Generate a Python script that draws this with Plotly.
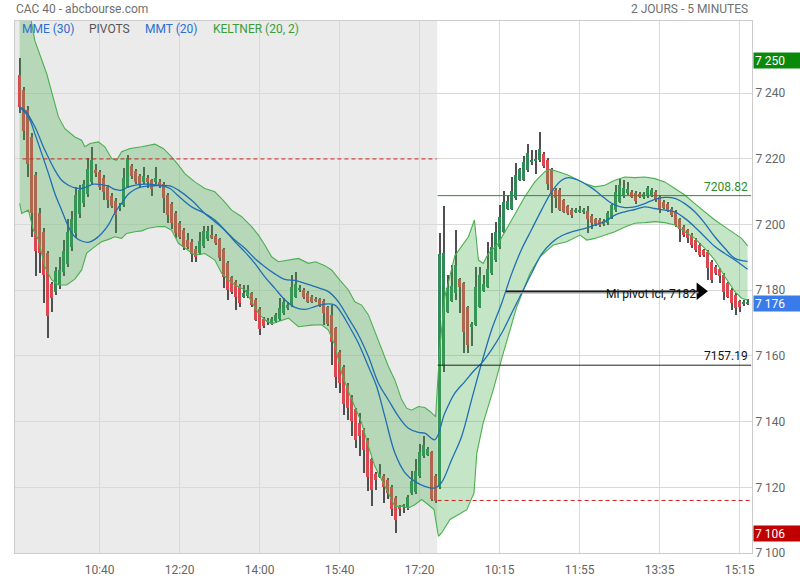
import plotly.graph_objects as go

# ---------------- data ----------------
TICK_IDX = [20, 40, 60, 80, 100, 120, 140, 160, 180]
TICK_TXT = ["10:40", "12:20", "14:00", "15:40", "17:20", "10:15", "11:55", "13:35", "15:15"]
Y_TICKS = [7100, 7120, 7140, 7160, 7180, 7200, 7220, 7240]
Y_TICK_TXT = ["7 100", "7 120", "7 140", "7 160", "7 180", "7 200", "7 220", "7 240"]

OPEN = [7245.5, 7240.9, 7234.8, 7226.7, 7215.1, 7203.4, 7197.6, 7191.3, 7181.8, 7179.6,
        7181.6, 7185.5, 7188.0, 7193.3, 7197.3, 7203.1, 7206.7, 7209.3, 7213.0, 7216.6,
        7215.9, 7214.1, 7211.5, 7208.7, 7207.2, 7205.0, 7206.0, 7211.5, 7217.8, 7216.3,
        7214.8, 7213.0, 7214.3, 7213.5, 7213.0, 7213.0, 7212.5, 7209.0, 7206.4, 7203.4,
        7200.4, 7198.3, 7195.3, 7194.8, 7192.7, 7191.5, 7193.5, 7195.6, 7196.8, 7196.6,
        7195.5, 7192.5, 7188.4, 7184.1, 7182.4, 7181.4, 7178.1, 7178.3, 7179.1, 7177.0,
        7174.2, 7171.2, 7170.4, 7169.8, 7170.5, 7171.2, 7173.0, 7174.5, 7175.5, 7178.1,
        7180.2, 7180.1, 7179.3, 7178.1, 7177.4, 7177.2, 7176.8, 7174.8, 7172.5, 7168.4,
        7161.3, 7156.6, 7151.2, 7147.5, 7143.8, 7139.6, 7137.5, 7134.5, 7128.6, 7124.2,
        7123.2, 7123.6, 7122.3, 7120.1, 7116.8, 7114.1, 7114.2, 7113.7, 7118.3, 7118.5,
        7123.3, 7129.4, 7129.9, 7130.7, 7123.6,
        7120.0, 7157.0, 7173.5, 7176.8, 7179.1, 7183.3, 7182.1, 7174.8, 7168.8, 7169.5,
        7175.0, 7179.9, 7181.1, 7185.2, 7189.2, 7193.1, 7197.8, 7204.9, 7204.9, 7208.0,
        7213.7, 7213.7, 7216.6, 7219.3, 7219.5, 7219.6, 7221.6, 7219.8, 7216.6, 7210.5,
        7210.5, 7207.4, 7205.6, 7204.6, 7204.1, 7204.0, 7203.8, 7204.2, 7202.6, 7201.6,
        7201.4, 7201.2, 7200.4, 7202.2, 7204.4, 7207.0, 7208.7, 7209.5, 7210.0, 7209.7,
        7209.3, 7208.3, 7208.7, 7209.0, 7210.0, 7208.5, 7207.0, 7206.4, 7204.9, 7203.9,
        7201.6, 7199.3, 7198.3, 7196.8, 7195.3, 7193.8, 7192.2, 7191.7, 7188.7, 7187.2,
        7186.4, 7184.7, 7182.1, 7180.1, 7178.6, 7176.6, 7176.1, 7175.9]
HIGH = [7250.6, 7242.0, 7236.0, 7228.0, 7216.0, 7205.0, 7199.0, 7192.0, 7182.5, 7187.0,
        7190.2, 7195.3, 7201.7, 7204.1, 7211.5, 7212.2, 7213.5, 7220.4, 7223.7, 7218.6,
        7216.5, 7215.0, 7212.0, 7209.5, 7208.0, 7206.5, 7217.1, 7221.1, 7218.5, 7217.0,
        7215.5, 7217.6, 7215.0, 7214.0, 7217.6, 7214.0, 7213.0, 7209.5, 7207.0, 7204.0,
        7201.0, 7199.0, 7197.3, 7195.5, 7193.5, 7197.8, 7199.5, 7199.5, 7199.8, 7197.0,
        7196.0, 7193.0, 7189.0, 7184.5, 7183.0, 7182.0, 7181.5, 7181.6, 7179.6, 7177.5,
        7174.8, 7171.8, 7171.5, 7172.0, 7173.2, 7177.5, 7177.5, 7176.5, 7184.6, 7185.7,
        7181.5, 7180.6, 7179.8, 7178.6, 7177.9, 7177.7, 7177.3, 7175.3, 7175.5, 7168.9,
        7161.8, 7157.1, 7151.7, 7148.0, 7144.3, 7142.6, 7138.0, 7135.0, 7129.0, 7124.7,
        7127.2, 7124.1, 7122.8, 7120.6, 7117.3, 7114.6, 7115.0, 7117.6, 7124.9, 7128.6,
        7133.3, 7135.5, 7132.2, 7131.2, 7124.1,
        7197.4, 7205.6, 7184.7, 7187.7, 7198.5, 7183.8, 7182.6, 7175.3, 7170.2, 7187.2,
        7187.2, 7184.6, 7194.8, 7197.3, 7200.9, 7205.9, 7210.3, 7209.0, 7214.5, 7218.8,
        7217.3, 7220.8, 7224.5, 7222.8, 7222.8, 7228.2, 7222.1, 7220.3, 7217.1, 7211.0,
        7211.0, 7207.9, 7206.1, 7205.1, 7205.1, 7205.6, 7205.2, 7205.6, 7203.1, 7202.1,
        7201.9, 7201.7, 7204.1, 7206.4, 7212.0, 7214.0, 7213.7, 7213.0, 7210.5, 7210.2,
        7209.8, 7209.8, 7211.7, 7211.0, 7210.5, 7209.0, 7207.5, 7206.9, 7205.4, 7204.4,
        7202.1, 7199.8, 7198.8, 7197.3, 7195.8, 7194.3, 7192.7, 7192.2, 7189.2, 7187.7,
        7186.9, 7185.2, 7182.6, 7180.6, 7179.1, 7177.1, 7177.1, 7177.4]
LOW = [7234.0, 7225.7, 7214.6, 7196.3, 7184.2, 7185.2, 7176.1, 7165.6, 7173.5, 7178.5,
       7180.5, 7184.5, 7187.0, 7192.0, 7196.0, 7202.0, 7205.5, 7208.5, 7212.0, 7214.5,
       7210.5, 7207.5, 7205.0, 7205.0, 7197.5, 7204.0, 7205.5, 7211.0, 7214.0, 7212.5,
       7211.5, 7212.5, 7211.0, 7208.8, 7212.5, 7211.0, 7203.4, 7200.6, 7198.8, 7195.8,
       7195.5, 7192.3, 7192.5, 7188.7, 7188.7, 7190.8, 7193.0, 7195.0, 7195.5, 7193.8,
       7189.0, 7180.6, 7177.0, 7179.0, 7174.0, 7175.0, 7177.5, 7177.8, 7175.0, 7170.5,
       7166.4, 7168.5, 7169.5, 7169.3, 7170.0, 7170.8, 7172.5, 7174.0, 7175.0, 7177.5,
       7179.5, 7177.4, 7176.0, 7176.0, 7176.5, 7175.0, 7169.5, 7169.0, 7157.3, 7150.2,
       7148.7, 7142.1, 7140.6, 7135.5, 7132.0, 7129.4, 7124.4, 7118.8, 7114.2, 7119.3,
       7122.7, 7115.2, 7116.3, 7111.2, 7106.0, 7111.2, 7112.2, 7113.2, 7117.8, 7118.0,
       7122.8, 7129.0, 7129.4, 7115.8, 7115.3,
       7119.5, 7155.0, 7173.0, 7176.3, 7177.0, 7173.0, 7160.8, 7160.8, 7163.0, 7169.0,
       7174.5, 7179.4, 7180.6, 7184.7, 7188.7, 7192.6, 7197.3, 7204.4, 7204.4, 7207.5,
       7213.2, 7213.2, 7216.1, 7218.1, 7215.5, 7219.1, 7217.3, 7210.5, 7203.6, 7205.0,
       7204.1, 7203.4, 7202.9, 7202.1, 7203.6, 7203.5, 7203.3, 7197.3, 7198.8, 7199.7,
       7199.4, 7199.7, 7199.9, 7201.7, 7203.9, 7206.5, 7208.2, 7209.0, 7208.0, 7206.4,
       7208.0, 7207.8, 7208.2, 7208.5, 7207.0, 7203.4, 7204.7, 7203.7, 7202.4, 7199.4,
       7194.8, 7196.3, 7194.3, 7192.8, 7191.7, 7190.0, 7190.2, 7183.1, 7182.3, 7184.7,
       7182.1, 7177.1, 7177.6, 7174.0, 7172.5, 7173.5, 7175.1, 7175.4]
CLOSE = [7235.8, 7228.5, 7218.4, 7203.4, 7192.1, 7191.3, 7184.7, 7172.2, 7177.6, 7185.9,
         7186.2, 7192.1, 7197.8, 7201.7, 7209.0, 7210.5, 7212.5, 7216.8, 7219.8, 7215.6,
         7211.5, 7210.0, 7207.5, 7205.8, 7202.9, 7205.8, 7214.1, 7220.4, 7214.8, 7213.0,
         7212.0, 7214.8, 7213.0, 7210.9, 7214.1, 7211.7, 7208.0, 7202.9, 7200.4, 7197.3,
         7196.3, 7193.3, 7193.3, 7191.2, 7190.2, 7195.1, 7198.0, 7198.0, 7196.0, 7194.3,
         7189.7, 7184.1, 7180.1, 7179.6, 7178.1, 7176.0, 7179.1, 7180.1, 7175.5, 7171.0,
         7168.1, 7169.0, 7170.8, 7171.2, 7172.6, 7174.5, 7176.5, 7175.5, 7181.1, 7181.9,
         7180.6, 7177.9, 7176.5, 7176.5, 7177.0, 7175.5, 7173.2, 7169.8, 7164.4, 7153.7,
         7151.7, 7145.4, 7144.1, 7140.1, 7134.5, 7135.5, 7131.5, 7123.2, 7119.3, 7122.1,
         7124.2, 7120.1, 7118.3, 7113.4, 7110.0, 7113.7, 7114.6, 7117.1, 7121.8, 7125.1,
         7130.7, 7132.8, 7131.7, 7116.3, 7115.8,
         7191.2, 7191.3, 7180.6, 7181.4, 7187.7, 7181.1, 7167.4, 7163.2, 7169.7, 7181.1,
         7184.6, 7181.9, 7186.4, 7193.1, 7197.8, 7202.4, 7206.9, 7207.2, 7210.3, 7215.0,
         7216.8, 7219.1, 7221.8, 7219.7, 7219.9, 7223.1, 7217.8, 7212.3, 7209.5, 7208.0,
         7204.6, 7203.9, 7203.4, 7202.9, 7204.6, 7204.6, 7204.6, 7201.8, 7200.4, 7200.2,
         7199.9, 7200.2, 7203.6, 7205.9, 7210.0, 7212.0, 7211.3, 7210.7, 7208.5, 7207.2,
         7208.5, 7209.3, 7211.0, 7210.5, 7207.5, 7204.9, 7205.2, 7204.2, 7202.9, 7199.9,
         7198.8, 7196.8, 7195.8, 7193.8, 7192.2, 7190.7, 7190.7, 7186.7, 7183.1, 7185.2,
         7184.2, 7179.6, 7178.1, 7176.0, 7174.5, 7174.8, 7176.3, 7176.0]

# Keltner (20, 2) bands (candle index, value)
KU_X = [0, 2, 3.8, 6.75, 9.7, 11.3, 13.8, 15.5, 16.3, 17.6, 19.7, 21.3, 23, 24.25, 25.5, 27.6,
        30.5, 33.8, 35.9, 38, 39.7, 41.3, 43.8, 46.3, 48.8, 50.9, 53, 55.5, 58, 59.7, 61.3, 63,
        64.7, 67.2, 69.7, 72.2, 74, 76.3, 78, 79.7, 82.2, 83.8, 85.5, 87.2, 88.8, 90.5, 92.2,
        93.8, 95.5, 96.75, 98, 99.7, 101.3, 102.6, 104, 105, 106.3, 108.8, 112.2, 113.7, 114.7,
        115.9, 117.2, 119.7, 123, 126.3, 128.8, 131.3, 132.6, 134.7, 137.2, 139.7, 141.3, 143.8,
        146.3, 148.8, 151.3, 153.8, 156.3, 158.8, 161.3, 163.8, 166.3, 168.8, 171.3, 173.8,
        176.3, 178.8, 180.5, 182]
KU_Y = [7280, 7268, 7256, 7246, 7232.8, 7229.2, 7226.7, 7225.7, 7223.7, 7224.7, 7225.2, 7223.7,
        7220.1, 7219.6, 7222.2, 7223.2, 7223.7, 7224.5, 7223.2, 7220.6, 7218.1, 7215.5, 7213,
        7211, 7210, 7207.4, 7204.4, 7202.4, 7199.4, 7196.8, 7193.8, 7190.2, 7188.7, 7189.2,
        7189.7, 7188.2, 7188.7, 7187.5, 7186.2, 7183.6, 7180.1, 7176.5, 7175.5, 7172.5, 7167.4,
        7161.9, 7156.8, 7152.7, 7146.7, 7144.1, 7143.5, 7144.6, 7144.3, 7143.1, 7141.5, 7162,
        7178, 7190.5, 7196.3, 7201.4, 7189.2, 7188.2, 7191.2, 7194.3, 7201.4, 7208.5, 7213,
        7216.1, 7216.8, 7216.1, 7215, 7213.5, 7212.5, 7211.5, 7212, 7213.5, 7214.5, 7214.3,
        7214.5, 7214, 7213, 7211, 7209, 7206.4, 7203.9, 7201.4, 7199.3, 7197.3, 7195.8, 7193.5]
KL_X = [0, 0.5, 2.2, 3.4, 4.7, 6.3, 8, 9.7, 11.75, 13.8, 15.5, 16.75, 18.8, 20.5, 22.2, 23.8,
        25.5, 26.75, 28.8, 30.5, 32.2, 34.7, 36.3, 38, 39.7, 41.3, 43.8, 46.3, 48.8, 50.5, 52.2,
        53.8, 56.3, 58, 59.7, 61.3, 63, 64.7, 67.2, 69.7, 73, 75.5, 77.2, 78.8, 80.5, 82.2,
        83.8, 85.5, 87.2, 88.8, 90.5, 92.2, 93.8, 95.5, 97.2, 98.8, 100.5, 102.2, 103.6, 104.7,
        105.5, 107.6, 111.8, 113.6, 114.3, 115.9, 118.4, 120.9, 124.3, 127.6, 130.1, 133.4,
        136.8, 140.1, 141.8, 143.8, 146.3, 148.8, 151.3, 153.8, 156.3, 158.8, 161.3, 163.8,
        166.3, 168.8, 171.3, 173.8, 176.3, 178.8, 180.5, 182]
KL_Y = [7206.5, 7203.4, 7204.4, 7198.4, 7195.3, 7187.2, 7183.2, 7181.6, 7181.6, 7183.4, 7186.2,
        7191.3, 7193.3, 7194.8, 7195.5, 7196.3, 7195.8, 7197.3, 7197.8, 7198.1, 7198.9, 7199.4,
        7199.4, 7198.3, 7194.3, 7192.8, 7190.7, 7191.2, 7189.2, 7185.2, 7183.1, 7181.6, 7180.1,
        7176.5, 7173, 7171, 7169.8, 7170.5, 7171.5, 7168.9, 7169.4, 7169.5, 7167.9, 7163.4,
        7154.8, 7149.2, 7144.6, 7139.6, 7132.5, 7126.4, 7122.3, 7118.3, 7114.2, 7114.2, 7113.7,
        7114.7, 7116.3, 7114.7, 7113.2, 7105.1, 7106.1, 7110.2, 7113.2, 7118.3, 7130.4, 7139.6,
        7149.7, 7160.8, 7175, 7185.2, 7190.2, 7193.8, 7194.8, 7196.8, 7195.3, 7195.8, 7196.8,
        7197.8, 7199.3, 7200.4, 7200.6, 7200.9, 7200.6, 7199.9, 7197.8, 7195.8, 7192.8, 7189.2,
        7184.2, 7179.6, 7177.6, 7177]

# MME (30)
MME_X = [0, 1.3, 3.8, 6.3, 8.8, 10.5, 12.2, 13.8, 15.5, 16.75, 18.4, 20.5, 22.2, 23.8, 25.5,
         27.2, 29.7, 32.2, 34.7, 37.6, 39.7, 43, 46.3, 48.8, 51.3, 53.8, 56.3, 58.8, 61.3, 63.8,
         66.3, 68.8, 71.3, 75.1, 77.2, 79.7, 82.2, 84.7, 87.2, 89.7, 92.2, 94.7, 97.2, 99.7,
         101.3, 103.8, 106.3, 108.8, 111.3, 113.8, 115.5, 118, 120.5, 123, 125.5, 128, 130.5,
         133, 135.5, 138, 140.5, 142.6, 143.8, 146.3, 148.8, 151.3, 153.8, 156.3, 158.8, 161.3,
         163.8, 166.3, 168.8, 171.3, 173.8, 176.3, 178.8, 182]
MME_Y = [7235.8, 7234.8, 7229.8, 7222.7, 7216.6, 7213.5, 7212, 7211.2, 7211, 7211.5, 7212.3,
         7212.2, 7211.7, 7210.7, 7210.5, 7211.5, 7212.2, 7212.3, 7212, 7211.8, 7210.5, 7207.4,
         7203.4, 7200.9, 7198.3, 7195.3, 7192.8, 7189.7, 7187.2, 7185, 7183.3, 7183, 7182.1,
         7180.6, 7179.6, 7176.5, 7171.5, 7166.4, 7159.8, 7151.7, 7146.6, 7141.6, 7138, 7136.7,
         7136.5, 7134.5, 7142.6, 7148.7, 7152.2, 7155.8, 7157.8, 7161.9, 7166.9, 7173, 7179.1,
         7185.2, 7191, 7194.5, 7196.6, 7197.8, 7198.6, 7199.3, 7199.9, 7200.9, 7202.9, 7203.9,
         7204.6, 7205.4, 7204.9, 7204.4, 7203.9, 7201.9, 7199.3, 7196.3, 7193.3, 7191.2,
         7189.2, 7186.4]

# MMT (20)
MMT_X = [0, 2.2, 3.8, 5.5, 7.2, 8.8, 10.5, 12.2, 13.8, 15.5, 17.2, 18.8, 20.5, 22.2, 23.8,
         25.5, 27.2, 28.8, 30.5, 33, 35.5, 37.6, 39.7, 43, 46.3, 48.8, 51.3, 53.8, 56.3, 58.8,
         61.3, 63.8, 66.3, 68.8, 71.3, 73.8, 76.3, 78.8, 80.5, 82.2, 84.7, 87.2, 89.25, 91.3,
         93.8, 96.3, 98.8, 101.3, 103.8, 105.5, 108, 110.5, 113, 115.5, 118, 120.5, 123, 125.5,
         128, 130.5, 133, 135.5, 137.2, 139.7, 142.6, 143.8, 146.3, 148.8, 151.3, 153.8, 156.3,
         158.8, 161.3, 163.8, 166.3, 168.8, 171.3, 173.8, 176.3, 178.8, 182]
MMT_Y = [7235.8, 7232.8, 7227.7, 7221.7, 7215.6, 7209.5, 7204.4, 7199.4, 7196.3, 7195, 7194.6,
         7195.5, 7197.3, 7199.9, 7203.6, 7206.5, 7209.3, 7210.7, 7211.5, 7211.8, 7211.8, 7211,
         7208.7, 7205.4, 7203.4, 7201.4, 7198.3, 7194.8, 7191.7, 7188.2, 7184.1, 7180.6, 7177.1,
         7174.8, 7174.2, 7175, 7175.8, 7175.5, 7173, 7169.5, 7163.9, 7156.8, 7150.7, 7141.6,
         7130.5, 7124.5, 7121.8, 7120.3, 7119.8, 7121.5, 7128.4, 7135.5, 7146.7, 7157.8, 7168,
         7176, 7185, 7192.5, 7198.5, 7204.5, 7210, 7213.5, 7214.3, 7213.5, 7211.5, 7210.5, 7208,
         7206, 7205.2, 7205.4, 7206.4, 7207.7, 7208.3, 7208, 7206.4, 7203.9, 7200.4, 7196.3,
         7192.8, 7189.7, 7188.8]

HIGH_MARK = 7250
LAST_MARK = 7176
LOW_MARK = 7106
PIVOT_DAY1 = 7220
PIVOT_DAY2_LOW = 7116
LEVEL_GREEN = 7208.82
LEVEL_BLACK = 7157.19
MI_PIVOT_TEXT = "Mi pivot ici, 7182"
MI_PIVOT_LEVEL = 7179.7
MI_PIVOT_FROM, MI_PIVOT_TO = 121.6, 169.7
DAY1_LAST = 104
N = len(OPEN)

# ---------------- style ----------------
FONT = "Roboto, 'Noto Sans', sans-serif"
GREEN_C = "#2f8a58"
RED_C = "#dc464e"
WICK_C = "#505050"
BAND_C = "#4caf50"
BAND_FILL = "rgba(76,175,80,0.32)"
BLUE_C = "#1f6fb2"
GRID_C = "#d9d9d9"

x = list(range(N))
body_base = [min(o, c) for o, c in zip(OPEN, CLOSE)]
body_h = [max(abs(c - o), 0.45) for o, c in zip(OPEN, CLOSE)]
body_col = [GREEN_C if c >= o else RED_C for o, c in zip(OPEN, CLOSE)]

fig = go.Figure()
fig.add_trace(go.Bar(x=x, base=LOW, y=[h - l for h, l in zip(HIGH, LOW)], width=0.28,
                     marker=dict(color=WICK_C, line=dict(width=0)), hoverinfo="skip"))
fig.add_trace(go.Bar(x=x, base=body_base, y=body_h, width=0.75,
                     marker=dict(color=body_col, line=dict(width=0)),
                     customdata=list(zip(OPEN, HIGH, LOW, CLOSE)),
                     hovertemplate="O %{customdata[0]}<br>H %{customdata[1]}<br>L %{customdata[2]}<br>C %{customdata[3]}<extra></extra>"))
fig.add_trace(go.Scatter(x=KU_X, y=KU_Y, mode="lines", line=dict(color=BAND_C, width=1.1),
                         hoverinfo="skip"))
fig.add_trace(go.Scatter(x=KL_X, y=KL_Y, mode="lines", line=dict(color=BAND_C, width=1.1),
                         fill="tonexty", fillcolor=BAND_FILL, hoverinfo="skip"))
fig.add_trace(go.Scatter(x=MME_X, y=MME_Y, mode="lines", line=dict(color=BLUE_C, width=1.3),
                         line_shape="spline", hoverinfo="skip"))
fig.add_trace(go.Scatter(x=MMT_X, y=MMT_Y, mode="lines", line=dict(color=BLUE_C, width=1.3),
                         line_shape="spline", hoverinfo="skip"))

x_lo, x_hi = -1.16, 183.1
day2_start = DAY1_LAST + 0.5
x_end = N - 0.2

shapes = [
    dict(type="rect", xref="x", yref="paper", x0=x_lo, x1=DAY1_LAST + 0.4, y0=0, y1=1,
         fillcolor="#ebebeb", line=dict(width=0), layer="below"),
    dict(type="line", xref="x", yref="y", x0=0.7, x1=DAY1_LAST + 0.3, y0=PIVOT_DAY1, y1=PIVOT_DAY1,
         line=dict(color="#d42020", width=1, dash="4px,3px")),
    dict(type="line", xref="x", yref="y", x0=day2_start, x1=x_end, y0=PIVOT_DAY2_LOW, y1=PIVOT_DAY2_LOW,
         line=dict(color="#d42020", width=1, dash="4px,3px")),
    dict(type="line", xref="x", yref="y", x0=day2_start, x1=x_hi - 0.2, y0=LEVEL_GREEN, y1=LEVEL_GREEN,
         line=dict(color="#2e8b2e", width=1)),
    dict(type="line", xref="x", yref="y", x0=day2_start, x1=x_hi - 0.2, y0=LEVEL_BLACK, y1=LEVEL_BLACK,
         line=dict(color="#222222", width=1)),
    dict(type="line", xref="x", yref="y", x0=MI_PIVOT_FROM, x1=MI_PIVOT_TO, y0=MI_PIVOT_LEVEL - 0.35,
         y1=MI_PIVOT_LEVEL - 0.35, line=dict(color="#9a9a9a", width=2)),
    dict(type="line", xref="x", yref="y", x0=MI_PIVOT_FROM, x1=MI_PIVOT_TO, y0=MI_PIVOT_LEVEL,
         y1=MI_PIVOT_LEVEL, line=dict(color="#1a1a1a", width=1.6)),
]

fig.add_trace(go.Scatter(x=[MI_PIVOT_TO + 0.5], y=[MI_PIVOT_LEVEL], mode="markers",
                         marker=dict(symbol="triangle-right", size=15, color="#000000"),
                         hoverinfo="skip"))

annotations = []
# header
annotations.append(dict(xref="paper", yref="paper", x=0, y=1, xanchor="left", yanchor="middle",
                        xshift=-1, yshift=12, text="CAC 40 - abcbourse.com", showarrow=False,
                        font=dict(family=FONT, size=12, color="#707070")))
annotations.append(dict(xref="paper", yref="paper", x=1, y=1, xanchor="right", yanchor="middle",
                        xshift=-2, yshift=12, text="2 JOURS - 5 MINUTES", showarrow=False,
                        font=dict(family=FONT, size=12, color="#707070")))
# indicator legend
for txt, col, px in [("MME (30)", "#2a6fcf", 20), ("PIVOTS", "#555555", 87),
                     ("MMT (20)", "#2a6fcf", 143), ("KELTNER (20, 2)", "#3a9d3a", 211)]:
    annotations.append(dict(xref="paper", yref="paper", x=0, y=1, xanchor="left", yanchor="middle",
                            xshift=px - 15, yshift=-7.5, text=txt, showarrow=False,
                            font=dict(family=FONT, size=12, color=col)))
# level labels
annotations.append(dict(xref="x", yref="y", x=x_hi - 0.4, y=LEVEL_GREEN, xanchor="right",
                        yanchor="bottom", text=f"{LEVEL_GREEN:.2f}", showarrow=False,
                        font=dict(family=FONT, size=12, color="#2e8b2e")))
annotations.append(dict(xref="x", yref="y", x=x_hi - 0.4, y=LEVEL_BLACK, xanchor="right",
                        yanchor="bottom", text=f"{LEVEL_BLACK:.2f}", showarrow=False,
                        font=dict(family=FONT, size=12, color="#111111")))
annotations.append(dict(xref="x", yref="y", x=MI_PIVOT_TO, y=MI_PIVOT_LEVEL, xanchor="right",
                        yanchor="middle", yshift=-3, text=MI_PIVOT_TEXT, showarrow=False,
                        font=dict(family=FONT, size=12, color="#111111")))
# value tags on the price axis
for val, bg in [(HIGH_MARK, "#0a8a0a"), (LAST_MARK, "#3a7bea"), (LOW_MARK, "#c00000")]:
    annotations.append(dict(xref="paper", yref="y", x=1, y=val, xanchor="left", yanchor="middle",
                            xshift=0.5, text=f"{val // 1000} {val % 1000:03d}", showarrow=False,
                            width=44, height=13, align="left", bgcolor=bg, borderpad=1,
                            font=dict(family=FONT, size=12, color="#ffffff")))

fig.update_layout(
    width=800, height=580,
    margin=dict(l=15, r=48, t=21, b=27, autoexpand=False),
    paper_bgcolor="#ffffff", plot_bgcolor="#ffffff",
    showlegend=False, barmode="overlay", bargap=0,
    shapes=shapes, annotations=annotations,
    font=dict(family=FONT, size=12, color="#666666"),
    xaxis=dict(range=[x_lo, x_hi], tickvals=TICK_IDX, ticktext=TICK_TXT, showgrid=True,
               gridcolor=GRID_C, gridwidth=1, zeroline=False, showline=True, linecolor="#cccccc",
               mirror=True, ticks="", ticklabelstandoff=6,
               tickfont=dict(family=FONT, size=12, color="#666666"),
               fixedrange=True, automargin=False),
    yaxis=dict(range=[7100, 7262], side="right", tickvals=Y_TICKS, ticktext=Y_TICK_TXT,
               showgrid=True, gridcolor=GRID_C, gridwidth=1, zeroline=False, showline=True,
               linecolor="#cccccc", mirror=True, ticks="",
               tickfont=dict(family=FONT, size=12, color="#666666"), fixedrange=True,
               automargin=False),
)

fig.write_html("out.html", config={"displayModeBar": False},
               post_script="document.body.style.margin='0';document.body.style.padding='0';")
